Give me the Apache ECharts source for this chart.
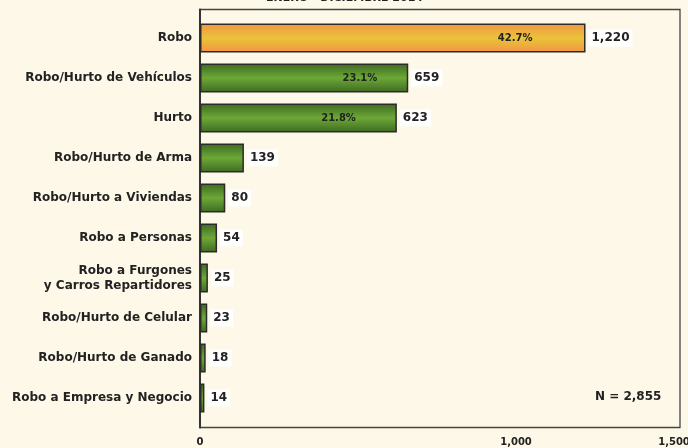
<!DOCTYPE html>
<html><head><meta charset="utf-8">
<script src="https://cdn.jsdelivr.net/npm/echarts@6/dist/echarts.min.js"></script>
<style>html,body{margin:0;padding:0;background:#FDF8E8}#c{width:688px;height:448px}</style>
</head><body><div id="c"></div>
<script>
const categories = ["Robo","Robo/Hurto de Vehículos","Hurto","Robo/Hurto de Arma","Robo/Hurto a Viviendas","Robo a Personas","Robo a Furgones\ny Carros Repartidores","Robo/Hurto de Celular","Robo/Hurto de Ganado","Robo a Empresa y Negocio"];
const values = [1220,659,623,139,80,54,25,23,18,14];
const percents = ["42.7%","23.1%","21.8%","","","","","","",""];
const xTicks = [0,1000,1500];
const title = "ENERO - DICIEMBRE 2014";
const totalText = "N = 2,855";

const FONT = "DejaVu Sans";
const pctDistance = [53,31,41,0,0,0,0,0,0,0];
const orange = {type:'linear',x:0,y:0,x2:0,y2:1,colorStops:[{offset:0,color:'#F49442'},{offset:0.5,color:'#E8C43A'},{offset:1,color:'#F49442'}]};
const green = {type:'linear',x:0,y:0,x2:0,y2:1,colorStops:[{offset:0,color:'#3D6921'},{offset:0.5,color:'#6CA837'},{offset:1,color:'#3D6921'}]};

const data = values.map((v,i)=>({value:v,itemStyle:{color:i===0?orange:green}}));
const pctData = values.map((v,i)=>({value:v,label:{distance:pctDistance[i]}}));
const chart = echarts.init(document.getElementById('c'));
chart.setOption({
  backgroundColor:'#FDF8E8',
  animation:false,
  title:{text:title,left:266,top:-9,padding:0,textStyle:{fontFamily:FONT,fontWeight:'bold',fontSize:11,color:'#222',lineHeight:14}},
  grid:[
    {left:200,right:8,top:9.5,bottom:20.5,show:true,borderColor:'#444',borderWidth:1.3,backgroundColor:'transparent',outerBoundsMode:'none'},
    {left:200,right:14,top:18,bottom:30,outerBoundsMode:'none'}
  ],
  xAxis:[
    {gridIndex:0,type:'value',min:0,max:1,show:false},
    {gridIndex:1,type:'value',min:0,max:1500,interval:500,
    axisLine:{show:false},axisTick:{show:false},splitLine:{show:false},
    axisLabel:{fontFamily:FONT,fontWeight:'bold',fontSize:10,color:'#222',margin:19,
      formatter:v=>xTicks.includes(v)?v.toLocaleString('en-US'):''}}
  ],
  yAxis:[
    {gridIndex:0,type:'value',min:0,max:1,axisLine:{show:true,lineStyle:{color:'#333',width:2}},axisTick:{show:false},axisLabel:{show:false},splitLine:{show:false}},
    {gridIndex:1,type:'category',data:categories,inverse:true,
    axisLine:{show:false},axisTick:{show:false},
    axisLabel:{fontFamily:FONT,fontWeight:'bold',fontSize:12,color:'#222',margin:8,lineHeight:15}}
  ],
  graphic:[
    {type:'text',left:595,top:391,style:{text:totalText,font:'bold 12px "DejaVu Sans"',fill:'#222'}}
  ],
  series:[
    {type:'bar',xAxisIndex:1,yAxisIndex:1,data:data,barWidth:'73%',
      itemStyle:{borderColor:'#2b2b2b',borderWidth:1.5},
      label:{show:true,position:'right',distance:3,formatter:p=>p.value.toLocaleString('en-US'),
        fontFamily:FONT,fontWeight:'bold',fontSize:12,color:'#222',backgroundColor:'#fff',padding:[3,3,2,3]}},
    {type:'bar',xAxisIndex:1,yAxisIndex:1,data:pctData,barWidth:'73%',barGap:'-100%',itemStyle:{color:'transparent'},silent:true,z:5,
      label:{show:true,position:'insideRight',formatter:p=>percents[p.dataIndex],
        fontFamily:FONT,fontWeight:'bold',fontSize:10,color:'#222'}}
  ]
});
</script></body></html>
